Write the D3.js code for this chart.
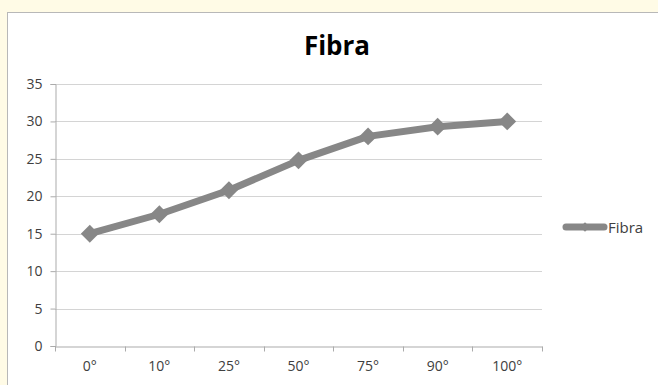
<!DOCTYPE html>
<html>
<head>
<meta charset="utf-8">
<script src="https://cdn.jsdelivr.net/npm/d3@7"></script>
<style>
  html, body { margin: 0; padding: 0; background: #fffbe6; }
  svg { display: block; }
</style>
</head>
<body>
<script>
// Fiber values by angle
const categories = ["0°", "10°", "25°", "50°", "75°", "90°", "100°"];
const fibraValues = [15, 17.6, 20.8, 24.8, 28, 29.3, 30];
const yTicks = [0, 5, 10, 15, 20, 25, 30, 35];
const seriesName = "Fibra";
const chartTitle = "Fibra";

const W = 658, H = 385;
const svg = d3.select("body").append("svg").attr("width", W).attr("height", H);

// chart panel
svg.append("rect")
  .attr("x", 7.5).attr("y", 12.5).attr("width", W).attr("height", H)
  .attr("fill", "#ffffff").attr("stroke", "#b8b8b8").attr("stroke-width", 1);

const plot = { left: 55, right: 542, top: 84, bottom: 346 };

const x = d3.scaleBand().domain(categories).range([plot.left, plot.right]);
const y = d3.scaleLinear().domain([0, 35]).range([plot.bottom, plot.top]);

const font = "'Open Sans', 'Liberation Sans', sans-serif";
const markColor = "#878787";

// gridlines
svg.append("g")
  .selectAll("line").data(yTicks.filter(d => d > 0)).join("line")
  .attr("x1", plot.left).attr("x2", plot.right)
  .attr("y1", d => Math.round(y(d)) + 0.5).attr("y2", d => Math.round(y(d)) + 0.5)
  .attr("stroke", "#d4d4d4").attr("stroke-width", 1.2);

// y axis
const yAxis = svg.append("g")
  .attr("transform", `translate(${plot.left + 0.5},0)`)
  .call(d3.axisLeft(y).tickValues(yTicks).tickSize(5).tickPadding(8));
yAxis.select(".domain").attr("stroke", "#ababab");
yAxis.selectAll(".tick line").attr("stroke", "#ababab");
yAxis.selectAll("text").attr("font-family", font).attr("font-size", 14).attr("fill", "#404040");

// x axis, ticks on category boundaries
const xAxis = svg.append("g")
  .attr("transform", `translate(0,${Math.round(y(0)) + 0.5})`)
  .call(d3.axisBottom(x).tickSize(0).tickPadding(15));
xAxis.select(".domain").attr("stroke", "#ababab");
xAxis.selectAll("text").attr("font-family", font).attr("font-size", 14).attr("fill", "#404040");
xAxis.selectAll(".bound").data(categories.concat([null])).join("line")
  .attr("class", "bound")
  .attr("x1", (d, i) => Math.round(plot.left + i * x.bandwidth()) + 0.5)
  .attr("x2", (d, i) => Math.round(plot.left + i * x.bandwidth()) + 0.5)
  .attr("y1", 0).attr("y2", 5)
  .attr("stroke", "#ababab");

// series line
const cx = d => x(d) + x.bandwidth() / 2;
const line = d3.line().x((d, i) => cx(categories[i])).y(d => y(d));
svg.append("path")
  .datum(fibraValues)
  .attr("d", line)
  .attr("fill", "none")
  .attr("stroke", markColor)
  .attr("stroke-width", 7)
  .attr("stroke-linejoin", "round");

// diamond markers
svg.append("g")
  .selectAll("path").data(fibraValues).join("path")
  .attr("transform", (d, i) => `translate(${cx(categories[i])},${y(d)}) rotate(45)`)
  .attr("d", d3.symbol().type(d3.symbolSquare).size(160))
  .attr("fill", markColor);

// title
svg.append("text")
  .attr("x", 337).attr("y", 55)
  .attr("text-anchor", "middle")
  .attr("font-family", font).attr("font-weight", "bold").attr("font-size", 26)
  .attr("fill", "#000")
  .text(chartTitle);

// legend
const lg = svg.append("g").attr("transform", "translate(566,227)");
lg.append("line").attr("x1", 0).attr("x2", 38).attr("y1", 0).attr("y2", 0)
  .attr("stroke", markColor).attr("stroke-width", 7).attr("stroke-linecap", "round");
lg.append("path").attr("transform", "translate(19,0) rotate(45)")
  .attr("d", d3.symbol().type(d3.symbolSquare).size(45)).attr("fill", markColor);
lg.append("text").attr("x", 42).attr("y", 5.5)
  .attr("font-family", font).attr("font-size", 15).attr("fill", "#404040")
  .text(seriesName);
</script>
</body>
</html>
